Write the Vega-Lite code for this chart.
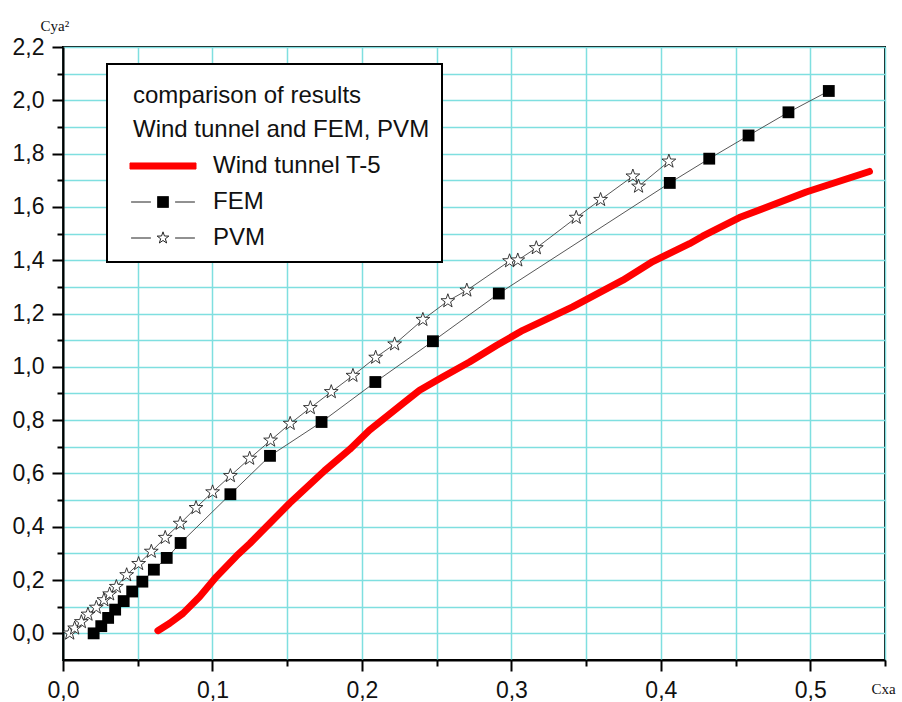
{
  "$schema": "https://vega.github.io/schema/vega-lite/v6.json",
  "width": 822,
  "height": 613,
  "autosize": "none",
  "padding": {"left": 63, "top": 47, "right": 17, "bottom": 42},
  "background": "white",
  "config": {
    "view": {"stroke": "black", "strokeWidth": 2},
    "font": "Liberation Sans",
    "axis": {
      "domainColor": "black",
      "domainWidth": 2,
      "tickColor": "black",
      "tickWidth": 2,
      "gridColor": "#7fdfe0",
      "gridWidth": 1.5,
      "gridOpacity": 1,
      "labelFont": "Liberation Sans",
      "labelFontSize": 23,
      "labelColor": "#111111",
      "titleFont": "Liberation Serif",
      "titleFontSize": 15,
      "titleFontWeight": "normal",
      "titleColor": "#111111"
    }
  },
  "data": {
    "values": [
      {"series": "Wind tunnel T-5", "cx": 0.0635, "cy": 0.01},
      {"series": "Wind tunnel T-5", "cx": 0.0714, "cy": 0.038},
      {"series": "Wind tunnel T-5", "cx": 0.0803, "cy": 0.075},
      {"series": "Wind tunnel T-5", "cx": 0.0914, "cy": 0.137},
      {"series": "Wind tunnel T-5", "cx": 0.1026, "cy": 0.212},
      {"series": "Wind tunnel T-5", "cx": 0.116, "cy": 0.29},
      {"series": "Wind tunnel T-5", "cx": 0.125, "cy": 0.337},
      {"series": "Wind tunnel T-5", "cx": 0.1516, "cy": 0.488},
      {"series": "Wind tunnel T-5", "cx": 0.175, "cy": 0.61},
      {"series": "Wind tunnel T-5", "cx": 0.1918, "cy": 0.69},
      {"series": "Wind tunnel T-5", "cx": 0.205, "cy": 0.762},
      {"series": "Wind tunnel T-5", "cx": 0.2274, "cy": 0.862},
      {"series": "Wind tunnel T-5", "cx": 0.2386, "cy": 0.912},
      {"series": "Wind tunnel T-5", "cx": 0.254, "cy": 0.962},
      {"series": "Wind tunnel T-5", "cx": 0.272, "cy": 1.018},
      {"series": "Wind tunnel T-5", "cx": 0.29, "cy": 1.08},
      {"series": "Wind tunnel T-5", "cx": 0.3077, "cy": 1.137},
      {"series": "Wind tunnel T-5", "cx": 0.341, "cy": 1.225},
      {"series": "Wind tunnel T-5", "cx": 0.3746, "cy": 1.325},
      {"series": "Wind tunnel T-5", "cx": 0.3946, "cy": 1.395},
      {"series": "Wind tunnel T-5", "cx": 0.4192, "cy": 1.462},
      {"series": "Wind tunnel T-5", "cx": 0.428, "cy": 1.49},
      {"series": "Wind tunnel T-5", "cx": 0.4526, "cy": 1.56},
      {"series": "Wind tunnel T-5", "cx": 0.4973, "cy": 1.656},
      {"series": "Wind tunnel T-5", "cx": 0.5396, "cy": 1.733},
      {"series": "FEM", "cx": 0.0205, "cy": 0.0},
      {"series": "FEM", "cx": 0.0256, "cy": 0.027},
      {"series": "FEM", "cx": 0.0302, "cy": 0.058},
      {"series": "FEM", "cx": 0.0349, "cy": 0.089},
      {"series": "FEM", "cx": 0.0406, "cy": 0.121},
      {"series": "FEM", "cx": 0.0463, "cy": 0.157},
      {"series": "FEM", "cx": 0.0531, "cy": 0.194},
      {"series": "FEM", "cx": 0.0608, "cy": 0.239},
      {"series": "FEM", "cx": 0.0694, "cy": 0.283},
      {"series": "FEM", "cx": 0.0787, "cy": 0.339},
      {"series": "FEM", "cx": 0.112, "cy": 0.522},
      {"series": "FEM", "cx": 0.1385, "cy": 0.666},
      {"series": "FEM", "cx": 0.173, "cy": 0.793},
      {"series": "FEM", "cx": 0.209, "cy": 0.943},
      {"series": "FEM", "cx": 0.2475, "cy": 1.096},
      {"series": "FEM", "cx": 0.2916, "cy": 1.275},
      {"series": "FEM", "cx": 0.406, "cy": 1.69},
      {"series": "FEM", "cx": 0.4324, "cy": 1.781},
      {"series": "FEM", "cx": 0.4587, "cy": 1.868},
      {"series": "FEM", "cx": 0.4854, "cy": 1.955},
      {"series": "FEM", "cx": 0.5124, "cy": 2.035},
      {"series": "PVM", "cx": 0.0045, "cy": 0.0},
      {"series": "PVM", "cx": 0.0078, "cy": 0.019},
      {"series": "PVM", "cx": 0.0123, "cy": 0.043},
      {"series": "PVM", "cx": 0.0167, "cy": 0.071},
      {"series": "PVM", "cx": 0.0223, "cy": 0.097},
      {"series": "PVM", "cx": 0.0274, "cy": 0.125},
      {"series": "PVM", "cx": 0.0312, "cy": 0.147},
      {"series": "PVM", "cx": 0.0357, "cy": 0.175},
      {"series": "PVM", "cx": 0.0426, "cy": 0.219},
      {"series": "PVM", "cx": 0.0506, "cy": 0.261},
      {"series": "PVM", "cx": 0.0591, "cy": 0.307},
      {"series": "PVM", "cx": 0.0684, "cy": 0.359},
      {"series": "PVM", "cx": 0.0784, "cy": 0.412},
      {"series": "PVM", "cx": 0.089, "cy": 0.471},
      {"series": "PVM", "cx": 0.1001, "cy": 0.53},
      {"series": "PVM", "cx": 0.112, "cy": 0.591},
      {"series": "PVM", "cx": 0.1249, "cy": 0.656},
      {"series": "PVM", "cx": 0.1389, "cy": 0.724},
      {"series": "PVM", "cx": 0.152, "cy": 0.787},
      {"series": "PVM", "cx": 0.1655, "cy": 0.846},
      {"series": "PVM", "cx": 0.1795, "cy": 0.906},
      {"series": "PVM", "cx": 0.194, "cy": 0.967},
      {"series": "PVM", "cx": 0.2092, "cy": 1.035},
      {"series": "PVM", "cx": 0.2219, "cy": 1.085},
      {"series": "PVM", "cx": 0.2408, "cy": 1.177},
      {"series": "PVM", "cx": 0.2575, "cy": 1.247},
      {"series": "PVM", "cx": 0.2702, "cy": 1.287},
      {"series": "PVM", "cx": 0.2988, "cy": 1.397},
      {"series": "PVM", "cx": 0.3043, "cy": 1.4},
      {"series": "PVM", "cx": 0.3167, "cy": 1.446},
      {"series": "PVM", "cx": 0.3434, "cy": 1.56},
      {"series": "PVM", "cx": 0.3597, "cy": 1.627},
      {"series": "PVM", "cx": 0.3813, "cy": 1.715},
      {"series": "PVM", "cx": 0.3851, "cy": 1.677},
      {"series": "PVM", "cx": 0.4054, "cy": 1.771}
    ]
  },
  "encoding": {
    "x": {
      "field": "cx",
      "type": "quantitative",
      "scale": {"domain": [0, 0.55], "nice": false, "zero": false},
      "axis": {
        "title": "Cxa",
        "titleAngle": 0,
        "titleAlign": "left",
        "titleBaseline": "alphabetic",
        "titleX": 808,
        "titleY": 33,
        "values": [0, 0.05, 0.1, 0.15, 0.2, 0.25, 0.3, 0.35, 0.4, 0.45, 0.5, 0.55],
        "labelExpr": "round(datum.value*20) % 2 == 0 ? replace(format(datum.value, '.1f'), '.', ',') : ''",
        "tickSize": {"condition": {"test": "round(datum.value*20) % 2 == 0", "value": 11}, "value": 6},
        "labelPadding": 8,
        "labelFlush": false,
        "labelOverlap": false,
        "grid": true
      }
    },
    "y": {
      "field": "cy",
      "type": "quantitative",
      "scale": {"domain": [-0.1, 2.2], "nice": false, "zero": false},
      "axis": {
        "title": "Cya²",
        "titleAngle": 0,
        "titleAlign": "left",
        "titleBaseline": "alphabetic",
        "titleX": -23,
        "titleY": -17,
        "values": [0, 0.1, 0.2, 0.3, 0.4, 0.5, 0.6, 0.7, 0.8, 0.9, 1.0, 1.1, 1.2, 1.3, 1.4, 1.5, 1.6, 1.7, 1.8, 1.9, 2.0, 2.1, 2.2],
        "labelExpr": "round(datum.value*10) % 2 == 0 ? replace(format(datum.value, '.1f'), '.', ',') : ''",
        "tickSize": {"condition": {"test": "round(datum.value*10) % 2 == 0", "value": 11}, "value": 6},
        "labelPadding": 8,
        "labelFlush": false,
        "labelOverlap": false,
        "grid": true
      }
    }
  },
  "layer": [
    {
      "transform": [{"filter": "datum.series === 'FEM' || datum.series === 'PVM'"}],
      "mark": {"type": "line", "color": "#444444", "strokeWidth": 0.9},
      "encoding": {"detail": {"field": "series"}}
    },
    {
      "transform": [{"filter": "datum.series === 'Wind tunnel T-5'"}],
      "mark": {"type": "line", "strokeWidth": 7, "strokeCap": "round", "strokeJoin": "round"},
      "encoding": {
        "color": {
          "field": "series",
          "type": "nominal",
          "scale": {"domain": ["Wind tunnel T-5", "FEM", "PVM"], "range": ["#ff0000", "#222222", "#222222"]},
          "legend": {
            "orient": "none",
            "legendX": 44,
            "legendY": 17,
            "title": ["comparison of results", "Wind tunnel and FEM, PVM"],
            "titleFont": "Liberation Sans",
            "titleFontSize": 24,
            "titleFontWeight": "normal",
            "titleColor": "#111111",
            "titleLineHeight": 34,
            "titlePadding": 20,
            "titleLimit": 1000,
            "labelFont": "Liberation Sans",
            "labelFontSize": 24,
            "labelColor": "#111111",
            "labelOffset": 70,
            "labelLimit": 1000,
            "padding": 12,
            "strokeColor": "black",
            "fillColor": "white",
            "rowPadding": 12,
            "symbolSize": 121,
            "encode": {
              "legend": {"update": {"strokeWidth": {"value": 2}}},
              "title": {"update": {"dx": {"value": 14}, "dy": {"value": 8}}},
              "symbols": {
                "update": {
                  "shape": {"signal": "datum.value === 'FEM' ? 'M-5.8,0H-2.2M2.2,0H5.8M-1,-1H1V1H-1Z' : datum.value === 'PVM' ? 'M-5.8,0H-2.2M2.2,0H5.8M0,-1.12L0.264,-0.364L1.065,-0.346L0.428,0.139L0.658,0.906L0,0.45L-0.658,0.906L-0.428,0.139L-1.065,-0.346L-0.264,-0.364Z' : 'M-6,-0.55H6V0.55H-6Z'"},
                  "fill": {"signal": "datum.value === 'FEM' ? '#000000' : datum.value === 'PVM' ? '#ffffff' : '#ff0000'"},
                  "stroke": {"signal": "datum.value === 'Wind tunnel T-5' ? '#ff0000' : '#333333'"},
                  "strokeWidth": {"value": 1},
                  "size": {"value": 121},
                  "x": {"value": 44},
                  "opacity": {"value": 1}
                }
              }
            }
          }
        }
      }
    },
    {
      "transform": [{"filter": "datum.series === 'FEM'"}],
      "mark": {"type": "point", "shape": "square", "filled": true, "color": "#000000", "size": 140, "opacity": 1}
    },
    {
      "transform": [{"filter": "datum.series === 'PVM'"}],
      "mark": {"type": "point", "shape": "M0,-1L0.235,-0.324L0.951,-0.309L0.38,0.124L0.588,0.809L0,0.4L-0.588,0.809L-0.38,0.124L-0.951,-0.309L-0.235,-0.324Z", "filled": true, "fill": "#ffffff", "stroke": "#222222", "strokeWidth": 0.9, "size": 210, "opacity": 1}
    }
  ]
}
